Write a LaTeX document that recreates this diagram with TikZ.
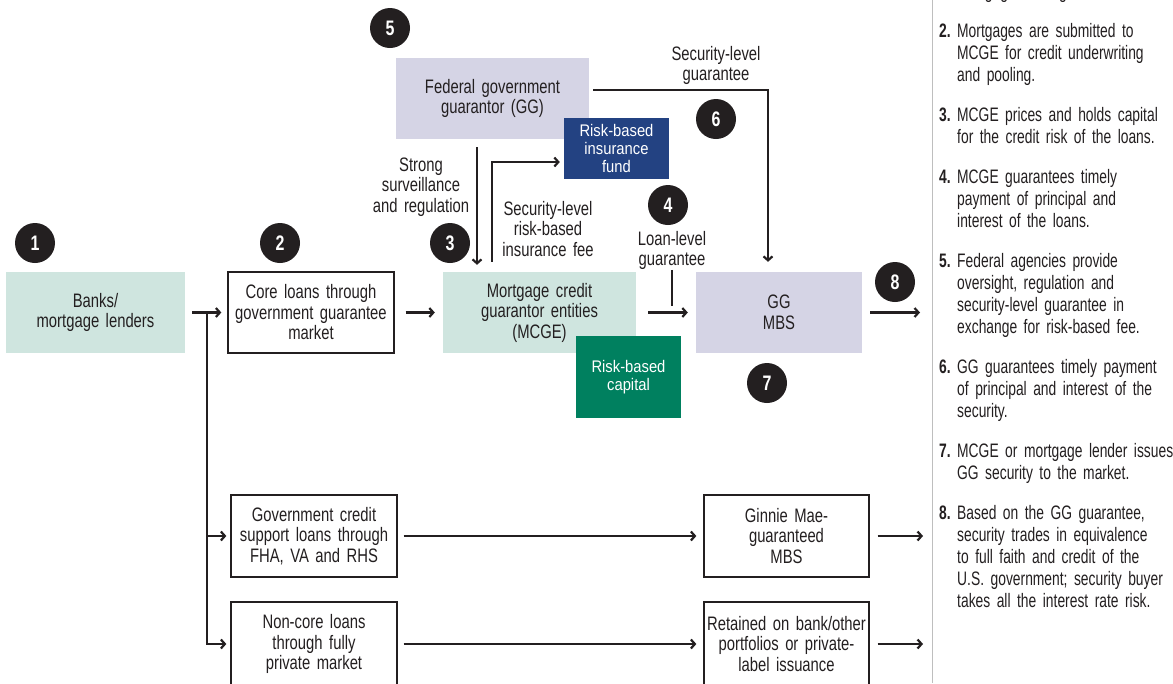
\documentclass[tikz,border=0pt]{standalone}
\usepackage{fontspec}
\setmainfont{Liberation Sans}[FakeStretch=0.76]
\newfontfamily\notefont{Liberation Sans}[FakeStretch=0.71]
\newfontfamily\widefont{Liberation Sans}[FakeStretch=0.88]
\usetikzlibrary{arrows.meta,calc}
\definecolor{ink}{RGB}{35,31,32}
\definecolor{tealbg}{RGB}{207,229,223}
\definecolor{lavbg}{RGB}{213,212,229}
\definecolor{navybg}{RGB}{35,66,130}
\definecolor{greenbg}{RGB}{0,128,95}
\definecolor{sepgray}{RGB}{190,190,190}
\tikzset{
  box/.style={inner sep=0pt, minimum height=81pt, align=center, text=ink,
    font=\fontsize{19.5}{20.5}\selectfont},
  tealbox/.style={box, fill=tealbg},
  lavbox/.style={box, fill=lavbg},
  linebox/.style={box, draw=ink, line width=1.3pt, fill=white},
  darkbox/.style={inner sep=0pt, align=center, text=white,
    font=\widefont\fontsize{16.8}{18}\selectfont},
  num/.style={circle, fill=ink, minimum size=40pt, inner sep=0pt, text=white,
    font=\bfseries\fontsize{21}{21}\selectfont},
  lbl/.style={inner sep=0pt, align=center, text=ink, anchor=base,
    font=\fontsize{19.5}{20.5}\selectfont},
  inum/.style={inner sep=0pt, anchor=base west, text=ink,
    font=\notefont\bfseries\fontsize{19.5}{22}\selectfont},
  itxt/.style={inner sep=0pt, anchor=base west, text=ink, text width=260pt,
    align=left, font=\notefont\fontsize{19.5}{22}\selectfont},
  conn/.style={draw=ink, line width=2.2pt, -{Straight Barb[length=4pt,width=9pt]}},
  thin/.style={draw=ink, line width=1.5pt},
}
\begin{document}
\begin{tikzpicture}[x=1pt,y=-1pt]
\useasboundingbox (0,0) rectangle (1173,683);
\clip (0,0) rectangle (1173,683);
\fill[white] (0,0) rectangle (1173,683);

% main row
\node[tealbox, minimum width=179pt, text width=170pt] (banks) at (95.5,312.5) {Banks/\\mortgage lenders};
\node[linebox, minimum width=166pt, text width=160pt] (core) at (311,312.5) {Core loans through\\government guarantee\\market};
\node[tealbox, minimum width=193pt, text width=180pt] (mcge) at (539.5,312.5) {Mortgage credit\\guarantor entities\\(MCGE)};
\node[darkbox, fill=greenbg, minimum width=105pt, minimum height=82pt, text width=100pt] (cap) at (628.5,377) {Risk-based\\capital};
\node[lavbox, minimum width=166pt, text width=160pt] (ggmbs) at (779,312.5) {GG\\MBS};

% top
\node[lavbox, minimum width=193pt, text width=180pt] (fed) at (492.5,98.5) {Federal government\\guarantor (GG)};
\node[darkbox, fill=navybg, minimum width=105pt, minimum height=61pt, text width=100pt] (fund) at (616.5,148.5) {Risk-based\\insurance\\fund};

% lower rows
\node[linebox, minimum width=166pt, minimum height=82pt, text width=160pt] (gov) at (314,536) {Government credit\\support loans through\\FHA, VA and RHS};
\node[linebox, minimum width=166pt, minimum height=84pt, text width=160pt] (noncore) at (314,644) {Non-core loans\\through fully\\private market};
\node[linebox, minimum width=165pt, minimum height=82pt, text width=160pt] (ginnie) at (786.5,536) {Ginnie Mae-\\guaranteed\\MBS};
\node[linebox, minimum width=165pt, minimum height=84pt, text width=160pt] (retained) at (786.5,644) {Retained on bank/other\\portfolios or private-\\label issuance};

% labels
\node[lbl, text width=120pt] (secg) at (716,60) {Security-level\\guarantee};
\node[lbl, text width=110pt] (strong) at (421,171) {Strong\\surveillance\\and regulation};
\node[lbl, text width=120pt] (fee) at (548,215) {Security-level\\risk-based\\insurance fee};
\node[lbl, text width=100pt] (loan) at (672,245) {Loan-level\\guarantee};

% numbers
\node[num] (n1) at (35,243) {1};
\node[num] (n2) at (280,243) {2};
\node[num] (n3) at (450,243) {3};
\node[num] (n4) at (668,205) {4};
\node[num] (n5) at (390,28) {5};
\node[num] (n6) at (716,119) {6};
\node[num] (n7) at (767,383) {7};
\node[num] (n8) at (895,282) {8};

% coordinates
\coordinate (j) at (207,312.5);
\coordinate (la) at (672,306);
\coordinate (out1) at (920,312.5);
\coordinate (out2) at (923,536);
\coordinate (out3) at (923,644);
\coordinate (s1) at (932,0);
\coordinate (s2) at (932,683);

% connectors
\draw[conn, shorten <=7pt, shorten >=6pt] (banks.east) -- (core.west);
\draw[conn, shorten >=4pt] (j) |- (gov.west);
\draw[conn, shorten >=4pt] (j) |- (noncore.west);
\draw[conn, shorten <=11pt, shorten >=8pt] (core.east) -- (mcge.west);
\draw[conn, shorten <=12pt, shorten >=8pt] (mcge.east) -- (ggmbs.west);
\draw[conn, shorten <=8pt] (ggmbs.east) -- (out1);
\draw[conn, shorten <=4pt, shorten >=10pt] ([yshift=8.5pt]fed.east) -| ([xshift=-11pt]ggmbs.north);
\draw[conn, shorten <=8pt, shorten >=7pt] ([xshift=-15.5pt]fed.south) -- ([xshift=-15.5pt]fed.south |- mcge.north);
\draw[conn, shorten <=10pt, shorten >=4pt] ([xshift=-47.5pt]mcge.north) |- ([yshift=-13.5pt]fund.west);
\draw[thin] (loan.south) -- (la);
\draw[conn, shorten <=6pt, shorten >=7pt] (gov.east) -- (ginnie.west);
\draw[conn, shorten <=8pt] (ginnie.east) -- (out2);
\draw[conn, shorten <=6pt, shorten >=7pt] (noncore.east) -- (retained.west);
\draw[conn, shorten <=8pt] (retained.east) -- (out3);

% separator
\draw[sepgray, line width=1pt] (s1) -- (s2);

% side notes
\node[itxt] (t1) at (957,-2) {mortgage lending.};
\node[inum] (i2) at (939,37) {2.};
\node[itxt] (t2) at (957,37) {Mortgages are submitted to\\MCGE for credit underwriting\\and pooling.};
\node[inum] (i3) at (939,121) {3.};
\node[itxt] (t3) at (957,121) {MCGE prices and holds capital\\for the credit risk of the loans.};
\node[inum] (i4) at (939,183) {4.};
\node[itxt] (t4) at (957,183) {MCGE guarantees timely\\payment of principal and\\interest of the loans.};
\node[inum] (i5) at (939,267) {5.};
\node[itxt] (t5) at (957,267) {Federal agencies provide\\oversight, regulation and\\security-level guarantee in\\exchange for risk-based fee.};
\node[inum] (i6) at (939,373) {6.};
\node[itxt] (t6) at (957,373) {GG guarantees timely payment\\of principal and interest of the\\security.};
\node[inum] (i7) at (939,457) {7.};
\node[itxt] (t7) at (957,457) {MCGE or mortgage lender issues\\GG security to the market.};
\node[inum] (i8) at (939,519) {8.};
\node[itxt] (t8) at (957,519) {Based on the GG guarantee,\\security trades in equivalence\\to full faith and credit of the\\U.S. government; security buyer\\takes all the interest rate risk.};
\end{tikzpicture}
\end{document}
